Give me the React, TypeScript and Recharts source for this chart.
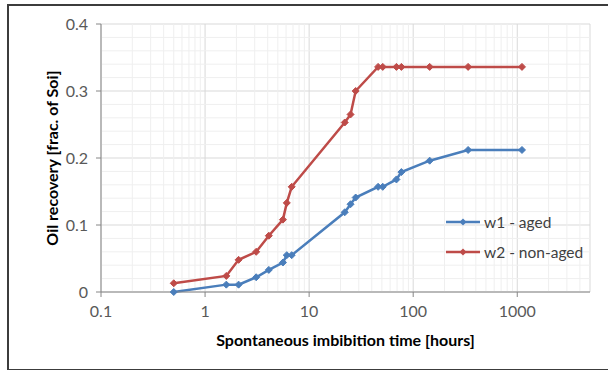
import React from 'react'
import { LineChart, Line, XAxis, YAxis, CartesianGrid, ReferenceLine, Legend } from 'recharts'

// imbibition times [hours], shared by both wells
const hours = [0.5, 1.6, 2.1, 3.1, 4.1, 5.6, 6.1, 6.8, 22, 25, 28, 46, 51, 69, 77, 144, 337, 1110]
const w1Aged = [0, 0.011, 0.011, 0.022, 0.033, 0.044, 0.055, 0.055, 0.119, 0.131, 0.141, 0.157, 0.157, 0.168, 0.179, 0.196, 0.212, 0.212]
const w2NonAged = [0.013, 0.024, 0.048, 0.06, 0.084, 0.108, 0.133, 0.157, 0.253, 0.265, 0.3, 0.336, 0.336, 0.336, 0.336, 0.336, 0.336, 0.336]

const xTicks = [0.1, 1, 10, 100, 1000]
const yTicks = [0, 0.1, 0.2, 0.3, 0.4]
const xMinor = [0.2, 0.3, 0.4, 0.5, 0.6, 0.7, 0.8, 0.9, 2, 3, 4, 5, 6, 7, 8, 9, 20, 30, 40, 50, 60, 70, 80, 90, 200, 300, 400, 500, 600, 700, 800, 900, 2000, 3000, 4000]
const yMinor = [0.02, 0.04, 0.06, 0.08, 0.12, 0.14, 0.16, 0.18, 0.22, 0.24, 0.26, 0.28, 0.32, 0.34, 0.36, 0.38]

const data = hours.map((t, i) => ({ t, w1: w1Aged[i], w2: w2NonAged[i] }))

const BLUE = '#4a7ebb'
const RED = '#be4b48'
const FONT = 'Lato, "Open Sans", sans-serif'

const Diamond = (props: any) => {
  const { cx, cy, stroke, index } = props
  if (cx == null || cy == null) return <g key={index} />
  const r = 3.5
  return (
    <polygon
      key={index}
      points={`${cx},${cy - r} ${cx + r},${cy} ${cx},${cy + r} ${cx - r},${cy}`}
      fill={stroke}
      stroke={stroke}
    />
  )
}

const LegendBox = () => (
  <div style={{ fontFamily: FONT, fontSize: 15.5, color: '#404040' }}>
    {[
      { name: 'w1 - aged', color: BLUE },
      { name: 'w2 - non-aged', color: RED },
    ].map((item) => (
      <div key={item.name} style={{ display: 'flex', alignItems: 'center', height: 30 }}>
        <svg width={36} height={10} style={{ marginRight: 2 }}>
          <line x1={0} y1={5} x2={34} y2={5} stroke={item.color} strokeWidth={2.5} />
          <polygon points="17,1.5 20.5,5 17,8.5 13.5,5" fill={item.color} />
        </svg>
        <span>{item.name}</span>
      </div>
    ))}
  </div>
)

export default function App() {
  return (
    <div style={{ position: 'absolute', left: 0, top: 0, width: 608, height: 370, overflow: 'hidden', background: '#fff' }}>
      <div
        style={{
          position: 'absolute',
          left: 7,
          top: 4,
          width: 620,
          height: 363,
          border: '2px solid #3c3c3c',
        }}
      />
      <div style={{ position: 'absolute', left: 0, top: 0 }}>
        <LineChart width={608} height={370} data={data} margin={{ top: 24, right: 18, left: 61, bottom: 48 }}>
          {xMinor.map((v) => (
            <ReferenceLine key={'xm' + v} x={v} stroke="#efefef" strokeWidth={1} />
          ))}
          {yMinor.map((v) => (
            <ReferenceLine key={'ym' + v} y={v} stroke="#efefef" strokeWidth={1} />
          ))}
          <CartesianGrid stroke="#d9d9d9" strokeWidth={1} />
          <XAxis
            dataKey="t"
            type="number"
            scale="log"
            domain={[0.1, 5000]}
            ticks={xTicks}
            allowDataOverflow
            height={30}
            stroke="#868686"
            tickSize={5}
            tickMargin={9}
            tick={{ fill: '#595959', fontSize: 16, fontFamily: FONT }}
            tickFormatter={(v) => `${v}`}
            label={{
              value: 'Spontaneous imbibition time [hours]',
              position: 'insideBottom',
              offset: -24,
              style: { fontFamily: FONT, fontWeight: 700, fontSize: 16, fill: '#000' },
            }}
          />
          <YAxis
            type="number"
            domain={[0, 0.4]}
            ticks={yTicks}
            width={40}
            stroke="#868686"
            tickSize={5}
            tickMargin={8}
            tick={{ fill: '#595959', fontSize: 16, fontFamily: FONT }}
            tickFormatter={(v) => `${v}`}
            label={{
              value: 'Oil recovery [frac. of Soi]',
              angle: -90,
              position: 'insideLeft',
              offset: -10,
              dx: 1,
              style: { fontFamily: FONT, fontWeight: 700, fontSize: 16, fill: '#000', textAnchor: 'middle' },
            }}
          />
          <Legend
            layout="horizontal"
            align="center"
            verticalAlign="middle"
            content={<LegendBox />}
            wrapperStyle={{ left: 446, top: 207, width: 160 }}
          />
          <Line
            type="linear"
            dataKey="w1"
            name="w1 - aged"
            stroke={BLUE}
            strokeWidth={2.5}
            dot={<Diamond />}
            activeDot={false}
            isAnimationActive={false}
          />
          <Line
            type="linear"
            dataKey="w2"
            name="w2 - non-aged"
            stroke={RED}
            strokeWidth={2.5}
            dot={<Diamond />}
            activeDot={false}
            isAnimationActive={false}
          />
        </LineChart>
      </div>
    </div>
  )
}
